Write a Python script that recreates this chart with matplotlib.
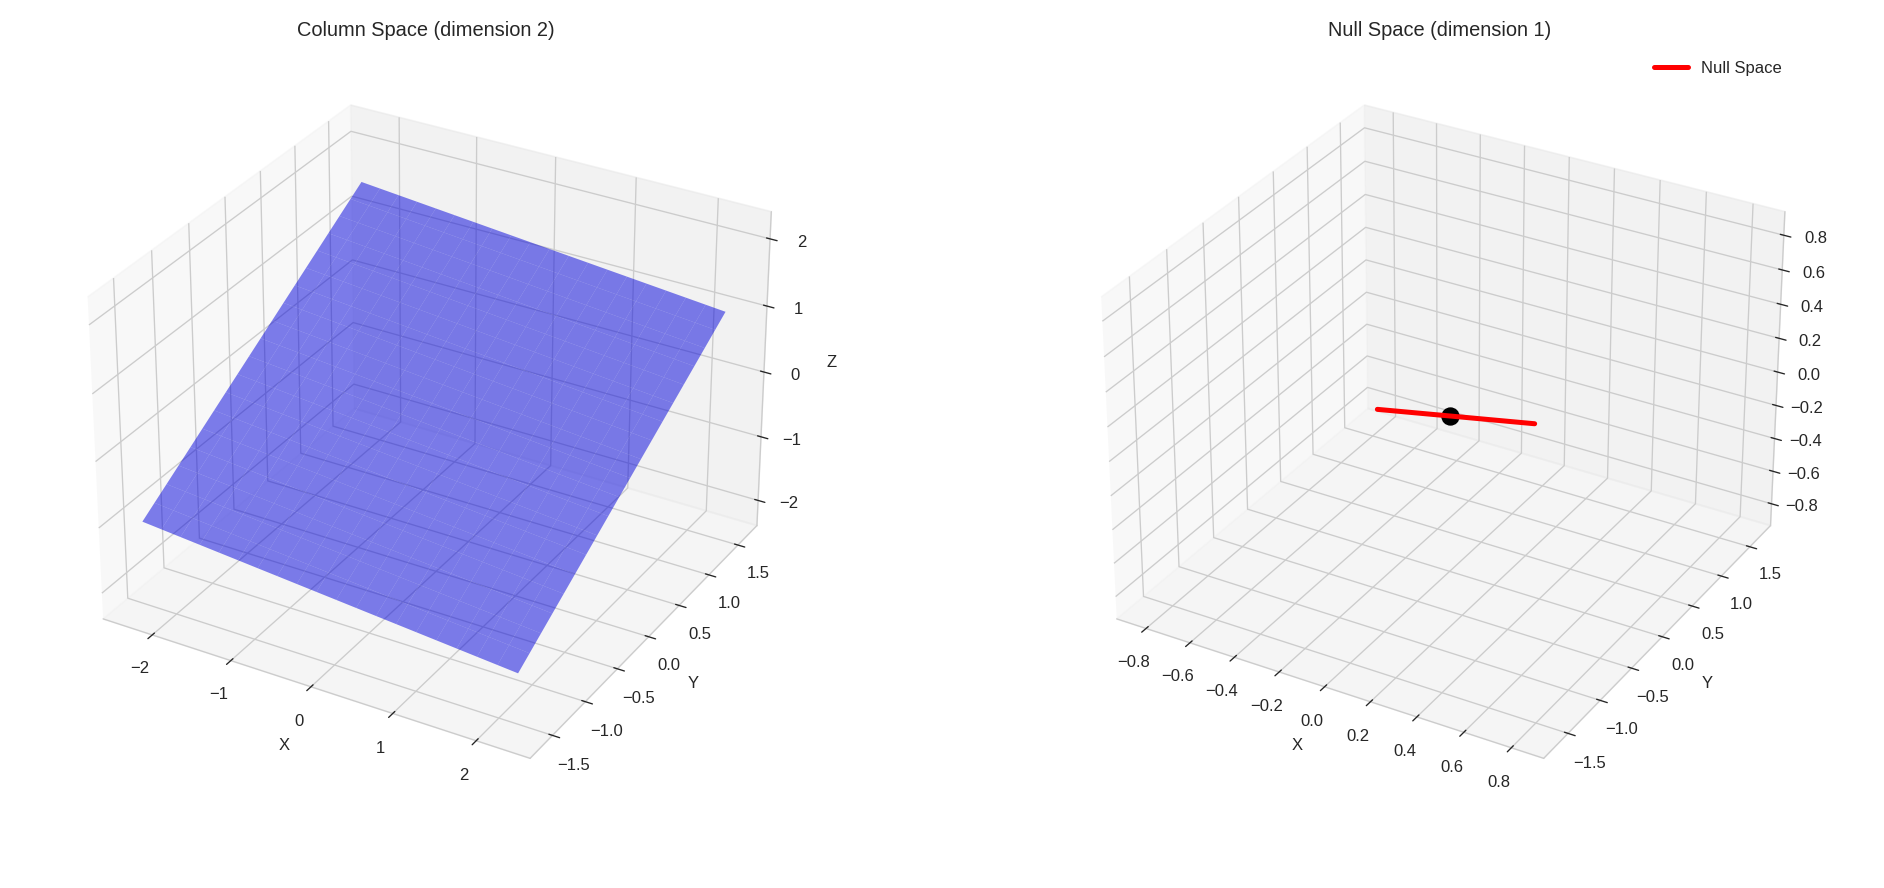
import numpy as np
import matplotlib.pyplot as plt
import seaborn as sns

sns.set_style("whitegrid")
plt.rcParams["font.family"] = ["Arial", "Liberation Sans", "DejaVu Sans"]

# column space plane z = a*x + b*y
x_range = [-2.3, 2.3]
y_range = [-1.6, 1.6]
plane_coef = [-0.11, 0.78]
z_lim = [-2.4, 2.4]

# null space direction and parameter range
null_vec = np.array([0.408, -0.816, 0.408])
t_range = [-2.0, 2.0]

fig = plt.figure(figsize=(15.7, 7.4), dpi=120)

ax1 = fig.add_axes([-0.0205, 0.092, 0.493, 0.856], projection="3d")
xx, yy = np.meshgrid(np.linspace(*x_range, 20), np.linspace(*y_range, 20))
zz = plane_coef[0] * xx + plane_coef[1] * yy
ax1.plot_surface(xx, yy, zz, color="blue", alpha=0.5, linewidth=0)
ax1.set_zlim(*z_lim)
ax1.set_xlabel("X")
ax1.set_ylabel("Y")
ax1.set_zlabel("Z")
ax1.set_title("Column Space (dimension 2)")

ax2 = fig.add_axes([0.5175, 0.092, 0.493, 0.856], projection="3d")
t = np.linspace(*t_range, 50)
line = np.outer(t, null_vec)
ax2.plot(line[:, 0], line[:, 1], line[:, 2], color="red", linewidth=3,
         label="Null Space")
ax2.scatter([0], [0], [0], color="black", s=100, depthshade=False)
ax2.set_xlabel("X")
ax2.set_ylabel("Y")
ax2.set_title("Null Space (dimension 1)")
ax2.legend(frameon=False, loc="upper right", bbox_to_anchor=(0.97, 1.0))

fig.savefig("out.png")
